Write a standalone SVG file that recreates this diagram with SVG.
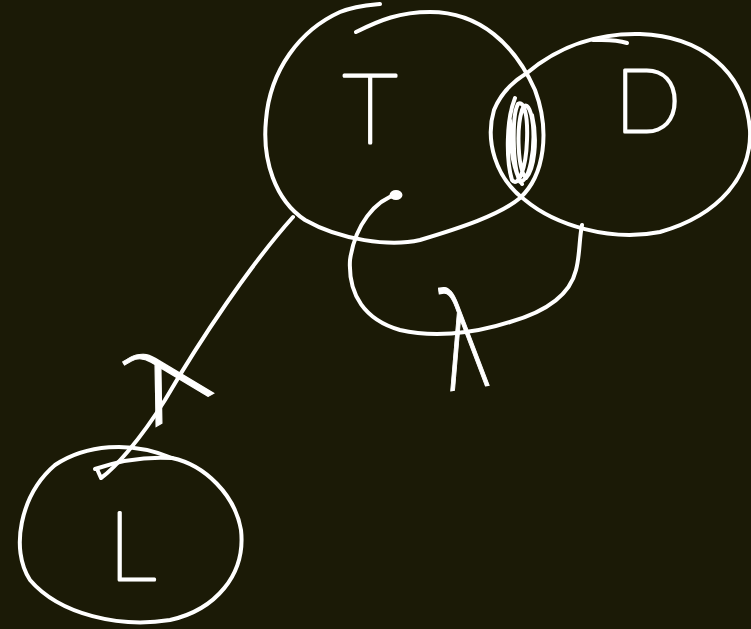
<svg xmlns="http://www.w3.org/2000/svg" width="751" height="629" viewBox="0 0 751 629">
<style>
.s{fill:none;stroke:#fff;stroke-width:4;stroke-linecap:round;stroke-linejoin:round}
.t{fill:#fff;stroke:#fff;stroke-width:3;stroke-linejoin:round;font-family:"Lato","DejaVu Sans",sans-serif;font-weight:100;text-anchor:middle}
.g{fill:#fff;stroke:#fff;stroke-width:1;font-family:"DejaVu Sans",sans-serif;font-weight:200;text-anchor:middle}
</style>
<rect width="751" height="629" fill="#1b1a06"/>
<g id="node-T">
<path class="s" d="M356,32 C380,20 400,12 430,12 C480,12 515,45 535,90 C550,130 545,175 520,198 C500,215 460,228 420,240 C390,247 340,240 305,220 C275,200 262,160 266,120 C270,70 300,30 340,12 C355,6 370,5 380,4"/>
<text class="t" x="370" y="143" font-size="96">T</text>
</g>
<g id="node-D">
<path class="s" d="M527,73 C560,45 600,33 640,34 C700,36 745,70 750,130 C752,175 720,215 660,232 C610,242 555,225 525,200 C495,178 485,140 494,110 C500,95 512,82 527,73"/>
<path class="s" d="M593,40 C605,40 615,39 627,43"/>
<text class="t" x="648" y="132" font-size="88">D</text>
</g>
<g id="overlap">
<path class="s" stroke-width="3" d="M515,98 C506,120 506,160 512,180 C518,188 526,170 527,140 C528,115 524,100 518,104 C512,115 512,165 520,182 C530,180 535,150 533,125 C531,108 526,100 522,110 C516,130 518,170 526,178 C534,170 538,140 532,115 M510,120 C510,150 514,172 522,184"/>
</g>
<g id="node-L">
<path class="s" d="M172,458 C205,465 235,495 241,530 C246,575 215,610 170,620 C120,628 60,615 30,580 C10,550 20,495 55,465 C85,445 130,440 172,458"/>
<path class="s" d="M95,469 C115,462 140,456 172,458"/>
<text class="t" x="132" y="580" font-size="96">L</text>
</g>
<g id="connectors">
<path class="s" d="M293,217 C250,265 200,340 165,400 C140,440 115,468 101,478 L97,469"/>
<path class="s" d="M398,194 C375,200 355,225 350,260 C348,295 365,320 400,330 C430,337 470,335 510,322 C545,312 570,295 576,270 C580,255 579,240 582,225"/>
<ellipse class="s" cx="396" cy="195" rx="4.5" ry="3" stroke-width="2.5"/>
</g>
<g id="labels">
<text class="g" x="0" y="0" font-size="110" transform="translate(185 410) rotate(-30) scale(1.25 0.9)">λ</text>
<text class="g" x="0" y="0" font-size="100" transform="translate(470 388) rotate(-8) scale(0.8 1.4)">λ</text>
</g>
</svg>
